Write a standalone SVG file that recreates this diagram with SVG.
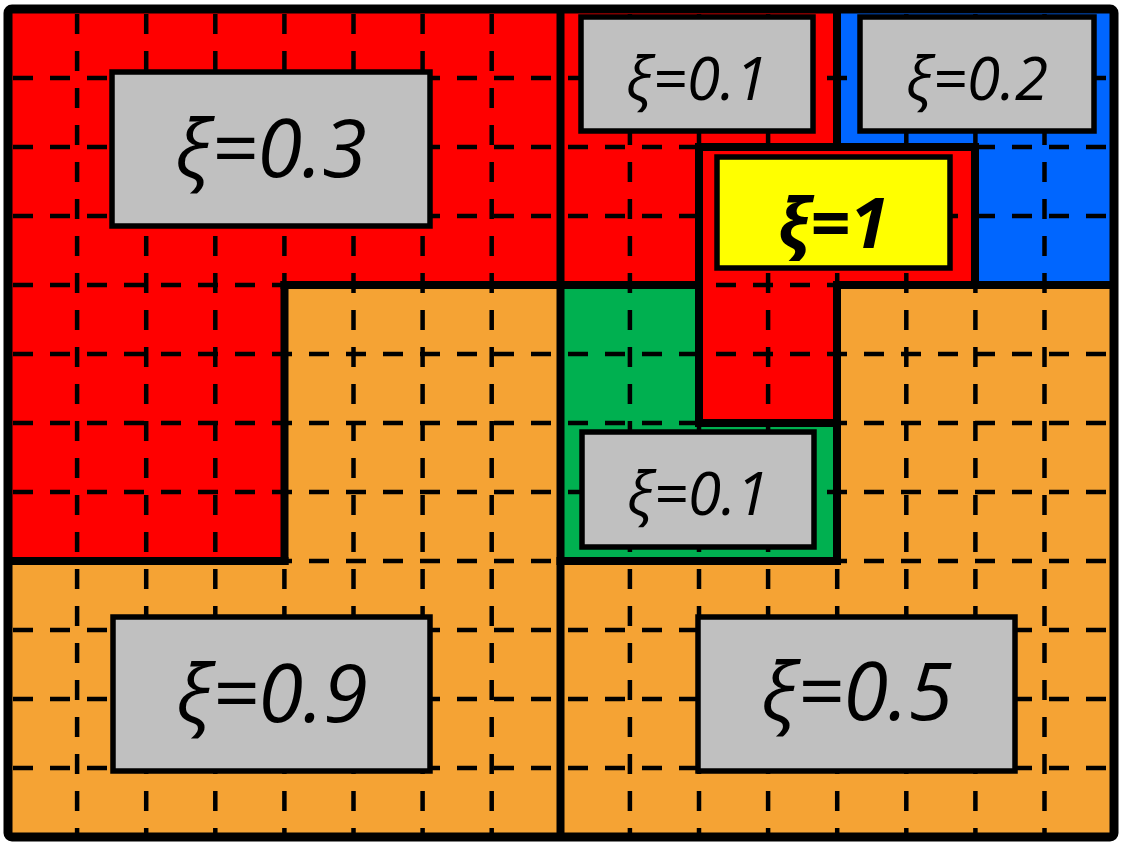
<svg xmlns="http://www.w3.org/2000/svg" width="1122" height="844" viewBox="0 0 1122 844">
<style>
.grid line{stroke:#000;stroke-width:4.5;stroke-dasharray:20 17;stroke-dashoffset:32;fill:none}
.thick{stroke:#000;stroke-width:8;stroke-linecap:square;fill:none}
.box{fill:#C0C0C0;stroke:#000;stroke-width:5.5}
.lbl{font-family:"Open Sans","Noto Sans","DejaVu Sans",sans-serif;font-style:italic;fill:#000;text-anchor:middle}
</style>
<rect width="1122" height="844" fill="#FFFFFF"/>
<g id="region-red-left"><polygon points="8,9 560.5,9 560.5,285 284.5,285 284.5,561 8,561" fill="#FF0000"/></g>
<g id="region-orange-left"><polygon points="284.5,285 560.5,285 560.5,837 8,837 8,561 284.5,561" fill="#F5A334"/></g>
<g id="region-red-top"><polygon points="560.5,9 837,9 837,147 699,147 699,285 560.5,285" fill="#FF0000"/></g>
<g id="region-blue"><polygon points="837,9 1114,9 1114,285 975,285 975,147 837,147" fill="#0066FF"/></g>
<g id="region-red-center"><polygon points="699,147 975,147 975,285 837,285 837,423 699,423" fill="#FF0000"/></g>
<g id="region-green"><polygon points="560.5,285 699,285 699,423 837,423 837,561 560.5,561" fill="#00B050"/></g>
<g id="region-orange-right"><polygon points="837,285 1114,285 1114,837 560.5,837 560.5,561 837,561" fill="#F5A334"/></g>
<g id="connectors" class="grid">
<line x1="77.1" y1="9" x2="77.1" y2="837"/>
<line x1="146.2" y1="9" x2="146.2" y2="837"/>
<line x1="215.3" y1="9" x2="215.3" y2="837"/>
<line x1="284.4" y1="9" x2="284.4" y2="837"/>
<line x1="353.5" y1="9" x2="353.5" y2="837"/>
<line x1="422.6" y1="9" x2="422.6" y2="837"/>
<line x1="491.7" y1="9" x2="491.7" y2="837"/>
<line x1="629.9" y1="9" x2="629.9" y2="837"/>
<line x1="699" y1="9" x2="699" y2="837"/>
<line x1="768.1" y1="9" x2="768.1" y2="837"/>
<line x1="837.2" y1="9" x2="837.2" y2="837"/>
<line x1="906.3" y1="9" x2="906.3" y2="837"/>
<line x1="975.4" y1="9" x2="975.4" y2="837"/>
<line x1="1044.5" y1="9" x2="1044.5" y2="837"/>
<line x1="8" y1="78" x2="1114" y2="78"/>
<line x1="8" y1="147" x2="1114" y2="147"/>
<line x1="8" y1="216" x2="1114" y2="216"/>
<line x1="8" y1="285" x2="1114" y2="285"/>
<line x1="8" y1="354" x2="1114" y2="354"/>
<line x1="8" y1="423" x2="1114" y2="423"/>
<line x1="8" y1="492" x2="1114" y2="492"/>
<line x1="8" y1="561" x2="1114" y2="561"/>
<line x1="8" y1="630" x2="1114" y2="630"/>
<line x1="8" y1="699" x2="1114" y2="699"/>
<line x1="8" y1="768" x2="1114" y2="768"/>
</g>
<g id="borders" class="thick">
<line x1="560.5" y1="9" x2="560.5" y2="837"/>
<line x1="8" y1="561" x2="284.5" y2="561"/>
<line x1="284.5" y1="285" x2="560.5" y2="285"/>
<line x1="284.5" y1="285" x2="284.5" y2="561"/>
<line x1="560.5" y1="285" x2="699" y2="285"/>
<line x1="837" y1="285" x2="1114" y2="285"/>
<line x1="699" y1="147" x2="699" y2="423"/>
<line x1="699" y1="147" x2="975" y2="147"/>
<line x1="837" y1="9" x2="837" y2="147"/>
<line x1="975" y1="147" x2="975" y2="285"/>
<line x1="837" y1="285" x2="837" y2="561"/>
<line x1="699" y1="423" x2="837" y2="423"/>
<line x1="560.5" y1="561" x2="837" y2="561"/>
<rect x="8" y="9" width="1106" height="828" rx="4" stroke-width="9"/>
</g>
<g id="node-xi-03"><rect class="box" x="112" y="72" width="318" height="154"/><text class="lbl" x="271" y="177" font-size="81">ξ=0.3</text></g>
<g id="node-xi-01-top"><rect class="box" x="581" y="17" width="232" height="114"/><text class="lbl" x="697" y="100" font-size="60">ξ=0.1</text></g>
<g id="node-xi-02"><rect class="box" x="860" y="17" width="234" height="114"/><text class="lbl" x="977" y="100" font-size="60">ξ=0.2</text></g>
<g id="node-xi-1"><rect x="717" y="157" width="233" height="111" fill="#FFFF00" stroke="#000" stroke-width="5.5"/><text class="lbl" x="833" y="248" font-size="70" font-weight="bold">ξ=1</text></g>
<g id="node-xi-01-green"><rect class="box" x="582" y="432" width="232" height="115"/><text class="lbl" x="698" y="515" font-size="60">ξ=0.1</text></g>
<g id="node-xi-09"><rect class="box" x="113" y="617" width="317" height="154"/><text class="lbl" x="272" y="722" font-size="81">ξ=0.9</text></g>
<g id="node-xi-05"><rect class="box" x="698" y="617" width="317" height="154"/><text class="lbl" x="857" y="720" font-size="81">ξ=0.5</text></g>
</svg>
